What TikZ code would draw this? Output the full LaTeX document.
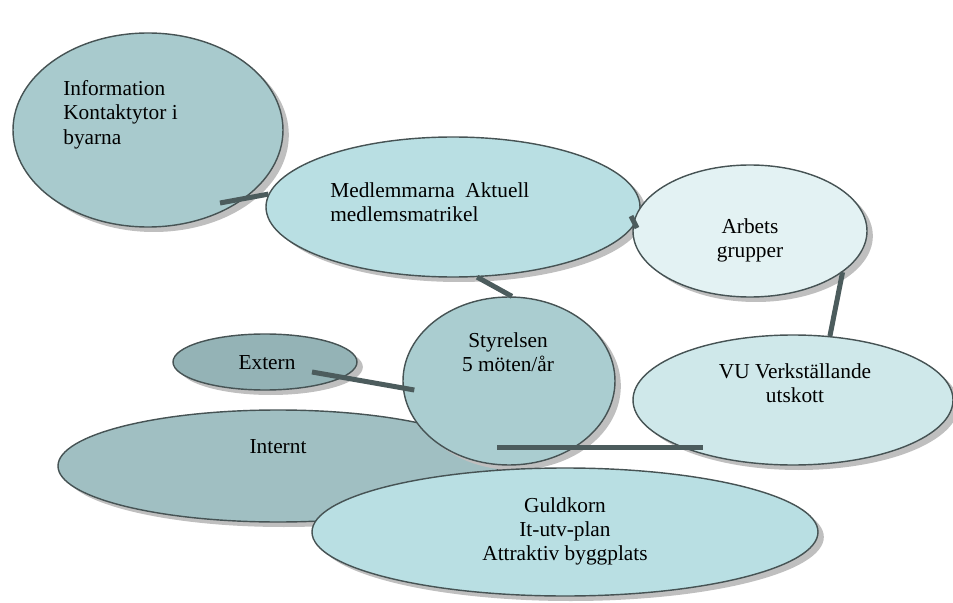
\documentclass[tikz,border=0pt]{standalone}
\usepackage{fontspec}
\setmainfont{Liberation Serif}
\usetikzlibrary{shapes.geometric,shadows}
\definecolor{edgeGrey}{HTML}{465354}
\definecolor{linkGrey}{HTML}{4C5C5D}
\definecolor{infoFill}{HTML}{A8CACD}
\definecolor{medlFill}{HTML}{B9DFE3}
\definecolor{arbFill}{HTML}{E3F2F3}
\definecolor{vuFill}{HTML}{CFE8EA}
\definecolor{styrFill}{HTML}{AACDD0}
\definecolor{extFill}{HTML}{94B3B6}
\definecolor{intFill}{HTML}{A0BFC2}
\definecolor{guldFill}{HTML}{B9DFE3}
\begin{document}
\begin{tikzpicture}
    [ x=0.6pt, y=-0.6pt
    , bubble/.style={ellipse, draw=edgeGrey, line width=0.85pt, inner sep=0pt,
        drop shadow={fill=black!25, opacity=1, shadow xshift=3.5pt, shadow yshift=-3pt}}
    , bsize/.style 2 args={minimum width=#1*1.2pt, minimum height=#2*1.2pt}
    , txt/.style={inner sep=0pt, font=\fontsize{12.8pt}{14.6pt}\selectfont}
    , link/.style={draw=linkGrey, line width=3pt}
    ]
\useasboundingbox (0,0) rectangle (953,603);

% bubbles, back to front
\node[bubble, bsize={220}{56}, fill=intFill] (int) at (278,466) {};
\node[bubble, bsize={92}{28}, fill=extFill] (ext) at (265,362) {};
\node[bubble, bsize={135}{97}, fill=infoFill] (info) at (148,130) {};
\node[bubble, bsize={187}{70}, fill=medlFill] (medl) at (453,207) {};
\node[bubble, bsize={117}{66}, fill=arbFill] (arb) at (750,231) {};
\node[bubble, bsize={160}{65}, fill=vuFill] (vu) at (793,400) {};
\node[bubble, bsize={106}{84}, fill=styrFill] (styr) at (509,381) {};
\node[bubble, bsize={253}{64}, fill=guldFill] (guld) at (565,532) {};

% texts
\node[txt, anchor=north west, align=left] (infoTxt) at (63,80)
    {Information\\Kontaktytor i\\byarna};
\node[txt, anchor=north west, align=left] (medlTxt) at (330,182)
    {Medlemmarna\ \ Aktuell\\medlemsmatrikel};
\node[txt, anchor=north, align=center] (arbTxt) at (750,218) {Arbets\\grupper};
\node[txt, anchor=north, align=center] (vuTxt) at (795,363) {VU Verkställande\\utskott};
\node[txt, anchor=north, align=center] (styrTxt) at (508,332) {Styrelsen\\5 möten/år};
\node[txt, anchor=north] (extTxt) at (267,355) {Extern};
\node[txt, anchor=north] (intTxt) at (278,439) {Internt};
\node[txt, anchor=north, align=center] (guldTxt) at (565,497)
    {Guldkorn\\It-utv-plan\\Attraktiv byggplats};

% connectors
\coordinate (medlEnd) at (631,216);
\coordinate (arbEnd) at (637,228);
\draw[link] ([shift={(72,73)}]info.center) -- (medl.176);
\draw[link] (medl.-71) -- (styr.88);
\draw[link] (medlEnd) -- (arbEnd);
\draw[link] (arb.-24.5) -- (vu.60);
\draw[link] ([shift={(47,10)}]ext.center) -- ([shift={(12,9)}]styr.west);
\draw[link] ([shift={(-12,66)}]styr.center) -- ([shift={(-90,47)}]vu.center);

\end{tikzpicture}
\end{document}
